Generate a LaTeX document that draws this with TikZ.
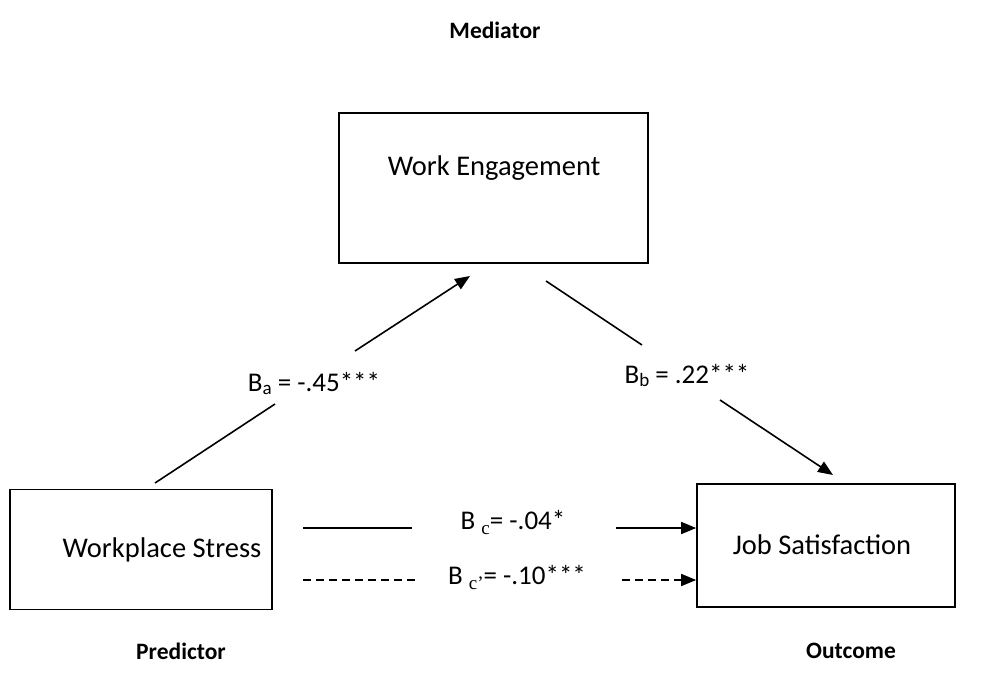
\documentclass[tikz,border=0pt]{standalone}
\usepackage{fontspec}
\setmainfont{Carlito}
\newfontfamily\serifsub{Liberation Serif}
\usetikzlibrary{arrows.meta}
\begin{document}
\begin{tikzpicture}[x=1pt,y=-1pt,
  box/.style={draw,line width=1.7pt,minimum width=#1,inner sep=0pt},
  boxtext/.style={font=\fontsize{28.5}{32}\selectfont,inner sep=0pt},
  roletext/.style={font=\fontsize{23.5}{26}\selectfont\bfseries,inner sep=0pt},
  coef/.style={font=\fontsize{27}{30}\selectfont,inner sep=0pt},
  conn/.style={line width=1.6pt},
  arr/.style={conn,-{Triangle[length=15pt,width=12pt]}},
  dconn/.style={conn,dash pattern=on 8pt off 5pt},
  darr/.style={dconn,-{Triangle[length=15pt,width=12pt]}}
]
\useasboundingbox (0,0) rectangle (992,682);
% boxes
\node[box=309pt,minimum height=150pt] (we) at (493.5,188) {};
\node[boxtext] (wet) at (494,168) {Work Engagement};
\node[box=262pt,minimum height=120pt] (ws) at (141,549.5) {};
\node[boxtext] (wst) at (162,550) {Workplace Stress};
\node[box=258pt,minimum height=123pt] (js) at (826,545.5) {};
\node[boxtext] (jst) at (822,545) {Job Satisfaction};
% role labels
\node[roletext] (med) at (495,30) {Mediator};
\node[roletext] (pred) at (181,651) {Predictor};
\node[roletext] (out) at (851,651) {Outcome};
% coefficient labels
\node[coef] (la) at (314,383) {B{\raisebox{-3pt}{\fontsize{19}{20}\selectfont a}} = -.45***};
\node[coef] (lb) at (687,375) {B{\raisebox{-3pt}{\fontsize{19}{20}\selectfont b}} = .22***};
\node[coef] (lc) at (513,523) {B {\raisebox{-5pt}{\serifsub\fontsize{19}{20}\selectfont c}}= -.04*};
\node[coef] (ld) at (517,578) {B {\raisebox{-5pt}{\serifsub\fontsize{19}{20}\selectfont c’}}= -.10***};
% path a
\coordinate (a0) at (155,483);
\coordinate (a1) at (275,404);
\coordinate (a2) at (355,351);
\coordinate (a3) at (470,276);
\draw[conn] (a0) -- (a1);
\draw[arr] (a2) -- (a3);
% path b
\coordinate (b0) at (546,281);
\coordinate (b1) at (642,345);
\coordinate (b2) at (720,400);
\coordinate (b3) at (833,475);
\draw[conn] (b0) -- (b1);
\draw[arr] (b2) -- (b3);
% path c
\coordinate (c0) at (303,528);
\coordinate (c1) at (412,528);
\coordinate (c2) at (616,528);
\draw[conn] (c0) -- (c1);
\draw[arr] (c2) -- (js.west |- c2);
% path c'
\coordinate (d0) at (303,580);
\coordinate (d1) at (415,580);
\coordinate (d2) at (622,580);
\draw[dconn] (d0) -- (d1);
\draw[darr] (d2) -- (js.west |- d2);
\end{tikzpicture}
\end{document}
